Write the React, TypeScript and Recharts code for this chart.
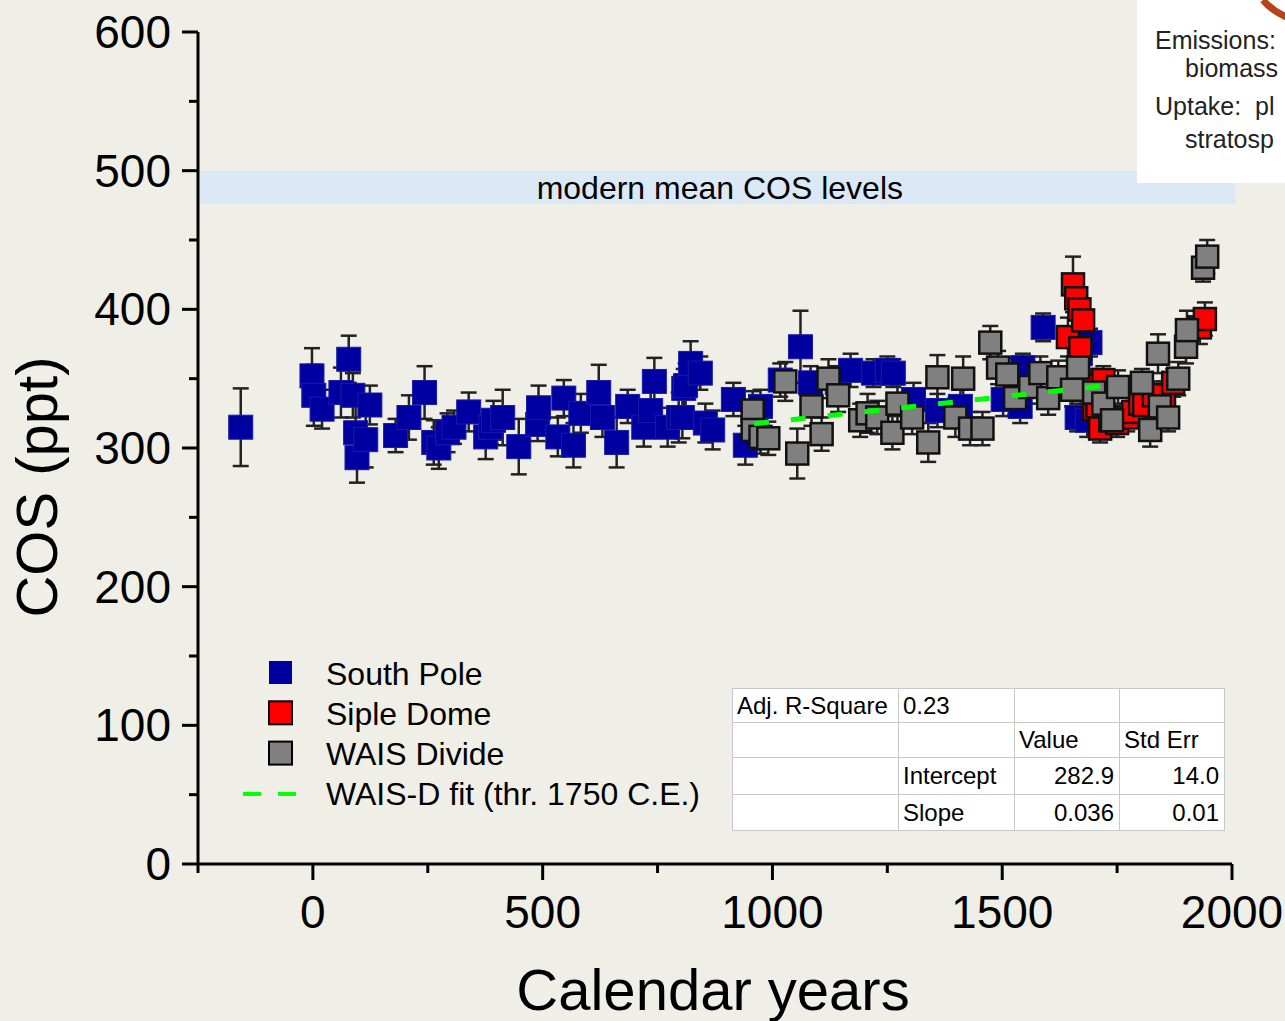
import React from 'react'
import { ScatterChart, Scatter, XAxis, YAxis, ErrorBar, ReferenceArea } from 'recharts'

// South Pole firn/ice COS (year CE, ppt, 1-sigma)
const spYear = [-157, -2, 2, 20, 61, 78, 87, 93, 96, 115, 124, 180, 209, 243, 263, 274, 293, 307, 339, 376, 387, 393, 413, 448, 489, 491, 533, 546, 567, 583, 622, 630, 661, 685, 720, 735, 743, 772, 796, 804, 807, 811, 822, 843, 854, 870, 915, 941, 974, 1017, 1061, 1083, 1141, 1170, 1220, 1250, 1263, 1307, 1359, 1409, 1502, 1539, 1545, 1589, 1663, 1670, 1685, 1691]
const spCos = [315, 352, 338, 328, 340, 364, 338, 311, 293, 306, 331, 309, 322, 340, 304, 300, 311, 315, 326, 308, 315, 320, 322, 301, 317, 329, 308, 336, 302, 325, 340, 322, 304, 330, 315, 327, 348, 315, 322, 322, 343, 345, 361, 354, 318, 313, 335, 302, 330, 349, 373, 347, 347, 356, 354, 356, 354, 335, 327, 330, 335, 330, 358, 387, 322, 368, 320, 376]
const spErr = [28, 20, 22, 14, 18, 17, 16, 22, 18, 20, 14, 12, 16, 19, 16, 15, 14, 12, 14, 16, 12, 14, 20, 20, 12, 16, 14, 13, 16, 14, 20, 14, 18, 12, 14, 16, 17, 14, 18, 15, 14, 16, 16, 12, 14, 14, 12, 14, 12, 12, 26, 12, 12, 12, 10, 10, 10, 12, 12, 12, 12, 12, 10, 10, 10, 10, 12, 10]

const sdYear = [1643, 1654, 1661, 1668, 1670, 1676, 1691, 1700, 1707, 1713, 1720, 1735, 1750, 1772, 1785, 1800, 1809, 1830, 1852, 1872, 1930, 1941]
const sdCos = [380, 418, 408, 400, 372, 392, 345, 328, 330, 314, 349, 320, 318, 322, 326, 332, 331, 338, 338, 347, 387, 393]
const sdErr = [14, 20, 16, 14, 14, 12, 12, 10, 12, 10, 10, 10, 10, 10, 10, 10, 10, 10, 10, 10, 12, 12]

const wdYear = [957, 957, 974, 991, 1028, 1054, 1085, 1107, 1122, 1143, 1191, 1207, 1228, 1261, 1272, 1304, 1339, 1359, 1398, 1415, 1430, 1457, 1474, 1491, 1511, 1528, 1561, 1583, 1600, 1622, 1652, 1665, 1700, 1720, 1739, 1752, 1804, 1822, 1839, 1843, 1861, 1883, 1900, 1902, 1937, 1946]
const wdCos = [327, 313, 308, 307, 348, 296, 330, 310, 350, 338, 320, 325, 322, 311, 332, 322, 304, 351, 322, 350, 314, 314, 376, 358, 353, 336, 344, 354, 336, 351, 342, 358, 340, 332, 320, 344, 347, 313, 368, 330, 322, 350, 373, 385, 430, 438]
const wdErr = [14, 14, 12, 12, 14, 18, 14, 12, 14, 12, 12, 14, 12, 12, 14, 12, 14, 16, 14, 16, 12, 12, 12, 12, 12, 12, 12, 12, 12, 12, 12, 12, 10, 10, 10, 12, 10, 12, 14, 10, 10, 12, 12, 14, 10, 12]

const fitYear = [960, 1750]
const fitCos = [317.5, 345.9]

const xTicks = [-250, 0, 250, 500, 750, 1000, 1250, 1500, 1750, 2000]
const yTicks = [0, 50, 100, 150, 200, 250, 300, 350, 400, 450, 500, 550, 600]

const statsRows = [
  ['Adj. R-Square', '0.23', '', ''],
  ['', '', 'Value', 'Std Err'],
  ['', 'Intercept', '282.9', '14.0'],
  ['', 'Slope', '0.036', '0.01'],
]

const toPoints = (xs: number[], ys: number[], es?: number[]) =>
  xs.map((x, i) => ({ x, y: ys[i], err: es ? es[i] : 0 }))

const FONT = '"Liberation Sans", Arial, sans-serif'
const BG = '#f0efe7'

const square = (fill: string, stroke: string, sw: number, size: number) => (p: any) => (
  <rect
    x={p.cx - size / 2}
    y={p.cy - size / 2}
    width={size}
    height={size}
    fill={fill}
    stroke={stroke}
    strokeWidth={sw}
  />
)

const XTick = (p: any) => {
  const major = p.payload.value % 500 === 0
  return (
    <g>
      <line x1={p.x} x2={p.x} y1={p.y} y2={p.y + (major ? 16 : 9)} stroke="#000" strokeWidth={3} />
      {major && (
        <text x={p.x} y={p.y + 64} textAnchor="middle" fontSize={46} fontFamily={FONT} fill="#000">
          {p.payload.value}
        </text>
      )}
    </g>
  )
}

const YTick = (p: any) => {
  const major = p.payload.value % 100 === 0
  return (
    <g>
      <line x1={p.x - (major ? 16 : 9)} x2={p.x} y1={p.y} y2={p.y} stroke="#000" strokeWidth={3} />
      {major && (
        <text x={p.x - 27} y={p.y + 16} textAnchor="end" fontSize={46} fontFamily={FONT} fill="#000">
          {p.payload.value}
        </text>
      )}
    </g>
  )
}

const legendItems = [
  { label: 'South Pole', fill: '#0000a0', stroke: 'none' },
  { label: 'Siple Dome', fill: '#ff0000', stroke: '#000' },
  { label: 'WAIS Divide', fill: '#808080', stroke: '#000' },
  { label: 'WAIS-D fit (thr. 1750 C.E.)', fill: '', stroke: '' },
]

const LegendBox = () => (
  <svg style={{ position: 'absolute', left: 230, top: 650, overflow: 'visible' }} width={500} height={170}>
    {legendItems.map((it, i) => {
      const cy = 23 + i * 40.3
      return (
        <g key={it.label}>
          {it.fill ? (
            <rect x={39} y={cy - 12} width={23} height={23} fill={it.fill} stroke={it.stroke} strokeWidth={2} />
          ) : (
            <g>
              <line x1={13} x2={31} y1={cy} y2={cy} stroke="#00ff00" strokeWidth={4} />
              <line x1={48} x2={66} y1={cy} y2={cy} stroke="#00ff00" strokeWidth={4} />
            </g>
          )}
          <text x={96} y={cy + 11.5} fontSize={32} fontFamily={FONT} fill="#000">
            {it.label}
          </text>
        </g>
      )
    })}
  </svg>
)

const colW = [166, 116, 105, 105]
const rowH = [34, 35, 37, 36]

const StatsTable = () => (
  <table
    style={{
      position: 'absolute',
      left: 732,
      top: 688,
      borderCollapse: 'collapse',
      tableLayout: 'fixed',
      width: 492,
      background: '#fff',
      border: '1px solid #000',
      fontFamily: FONT,
      fontSize: 24,
    }}
  >
    <colgroup>
      {colW.map((w, j) => (
        <col key={j} style={{ width: w }} />
      ))}
    </colgroup>
    <tbody>
      {statsRows.map((r, i) => (
        <tr key={i} style={{ height: rowH[i] }}>
          {r.map((c, j) => (
            <td
              key={j}
              style={{
                boxSizing: 'border-box',
                border: '1px solid #c8c8c8',
                padding: '0 5px 0 4px',
                textAlign: i >= 2 && j >= 2 ? 'right' : 'left',
                lineHeight: 1,
                whiteSpace: 'nowrap',
                overflow: 'hidden',
              }}
            >
              {c}
            </td>
          ))}
        </tr>
      ))}
    </tbody>
  </table>
)

const NoteBox = () => (
  <div
    style={{
      position: 'absolute',
      left: 1137,
      top: 0,
      width: 148,
      height: 183,
      background: '#fff',
      overflow: 'hidden',
    }}
  >
    <svg style={{ position: 'absolute', left: 0, top: 0 }} width={148} height={183}>
      <path d="M126 0 Q136 12 152 18" stroke="#b8441c" strokeWidth={7} fill="none" />
      <g fontSize={25} fontFamily={FONT} fill="#222">
        <text x={18} y={49}>Emissions:</text>
        <text x={48} y={77}>biomass</text>
        <text x={18} y={115} style={{ whiteSpace: 'pre' }}>Uptake:  pl</text>
        <text x={48} y={148}>stratosp</text>
      </g>
    </svg>
  </div>
)

export default function App() {
  return (
    <div style={{ position: 'relative', width: 1285, height: 1021, background: BG, overflow: 'hidden' }}>
      <style>{'body{margin:0}'}</style>
      <ScatterChart width={1285} height={1021} margin={{ top: 32, right: 53, bottom: 0, left: 0 }}>
        <XAxis
          type="number"
          dataKey="x"
          domain={[-250, 2000]}
          ticks={xTicks}
          allowDataOverflow
          height={157}
          axisLine={{ stroke: '#000', strokeWidth: 3 }}
          tickLine={false}
          tickSize={0}
          tickMargin={0}
          tick={<XTick />}
          interval={0}
          label={{
            content: (p: any) => (
              <text x={p.viewBox.x + p.viewBox.width / 2 - 2} y={1010} textAnchor="middle" fontSize={58} fontFamily={FONT} fill="#000">
                Calendar years
              </text>
            ),
          }}
        />
        <YAxis
          type="number"
          dataKey="y"
          domain={[0, 600]}
          ticks={yTicks}
          allowDataOverflow
          width={198}
          axisLine={{ stroke: '#000', strokeWidth: 3 }}
          tickLine={false}
          tickSize={0}
          tickMargin={0}
          tick={<YTick />}
          interval={0}
          label={{
            content: () => (
              <text x={57} y={487} transform="rotate(-90 57 487)" textAnchor="middle" fontSize={58} fontFamily={FONT} fill="#000">
                COS (ppt)
              </text>
            ),
          }}
        />
        <ReferenceArea
          x1={-250}
          x2={2008}
          y1={476}
          y2={500}
          ifOverflow="visible"
          fill="#dbe8f6"
          fillOpacity={1}
          stroke="none"
          label={{ value: 'modern mean COS levels', position: 'center', fontSize: 32, fontFamily: FONT, fill: '#000', dx: 3 }}
        />
        <Scatter
          name="South Pole"
          data={toPoints(spYear, spCos, spErr)}
          fill="#0000a0"
          shape={square('#0000a0', '#1a1aa8', 1, 24)}
          isAnimationActive={false}
        >
          <ErrorBar dataKey="err" direction="y" width={8} stroke="#222" strokeWidth={2.5} />
        </Scatter>
        <Scatter
          name="Siple Dome"
          data={toPoints(sdYear, sdCos, sdErr)}
          fill="#ff0000"
          shape={square('#ff0000', '#111', 2.5, 22)}
          isAnimationActive={false}
        >
          <ErrorBar dataKey="err" direction="y" width={8} stroke="#222" strokeWidth={2.5} />
        </Scatter>
        <Scatter
          name="WAIS Divide"
          data={toPoints(wdYear, wdCos, wdErr)}
          fill="#808080"
          shape={square('#808080', '#111', 2.5, 22)}
          isAnimationActive={false}
        >
          <ErrorBar dataKey="err" direction="y" width={8} stroke="#222" strokeWidth={2.5} />
        </Scatter>
        <Scatter
          name="WAIS-D fit"
          data={toPoints(fitYear, fitCos)}
          fill="#00ff00"
          shape={() => <g />}
          line={{ stroke: '#00ff00', strokeWidth: 5, strokeDasharray: '15 22' }}
          isAnimationActive={false}
        />
      </ScatterChart>
      <LegendBox />
      <StatsTable />
      <NoteBox />
    </div>
  )
}
